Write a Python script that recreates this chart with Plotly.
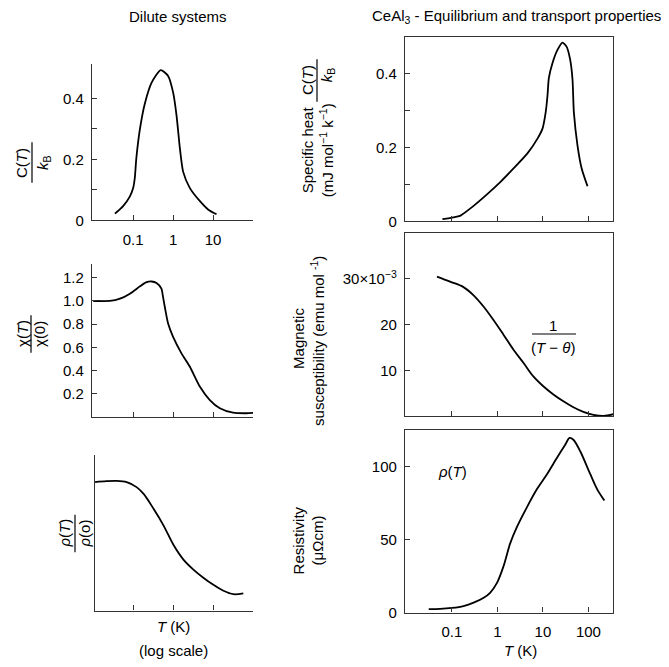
import plotly.graph_objects as go

OFF = 8  # default page body margin
W, H = 669 - OFF, 667 - OFF
FONT = "Liberation Sans, Arial, Helvetica, sans-serif"
FS = 15

# ---------------- data ----------------
# Dilute systems
dil_C_T = [0.035, 0.056, 0.083, 0.100, 0.110, 0.120, 0.148, 0.195, 0.29, 0.49, 0.75, 1.00, 1.22, 1.48, 1.78, 2.63, 4.7, 7.5, 12.2]
dil_C = [0.022, 0.047, 0.079, 0.106, 0.139, 0.203, 0.300, 0.382, 0.452, 0.493, 0.474, 0.420, 0.344, 0.236, 0.160, 0.106, 0.063, 0.036, 0.020]

dil_chi_T = [0.010, 0.026, 0.047, 0.083, 0.148, 0.21, 0.29, 0.385, 0.51, 0.56, 0.62, 0.75, 1.00, 1.62, 2.63, 4.7, 8.3, 14.8, 31.6, 68.4, 100.0]
dil_chi = [1.000, 1.000, 1.020, 1.063, 1.126, 1.160, 1.168, 1.155, 1.106, 1.035, 0.948, 0.805, 0.690, 0.548, 0.433, 0.260, 0.146, 0.075, 0.037, 0.032, 0.035]

dil_rho_T = [0.011, 0.021, 0.038, 0.068, 0.120, 0.178, 0.316, 0.56, 1.00, 1.78, 3.16, 5.6, 10.0, 17.8, 31.6, 56.0]
dil_rho = [0.823, 0.829, 0.831, 0.823, 0.791, 0.749, 0.654, 0.548, 0.422, 0.327, 0.263, 0.211, 0.165, 0.127, 0.105, 0.110]

# CeAl3
ce_C_T = [0.062, 0.108, 0.151, 0.30, 0.59, 1.17, 2.29, 4.57, 7.6, 9.8, 11.5, 12.6, 13.5, 16.2, 20.9, 26.9, 33.1, 39.8, 44.7, 47.9, 57.5, 70.8, 95.5]
ce_C = [0.006, 0.011, 0.015, 0.042, 0.073, 0.107, 0.144, 0.184, 0.224, 0.251, 0.295, 0.340, 0.388, 0.428, 0.464, 0.484, 0.473, 0.437, 0.384, 0.295, 0.206, 0.144, 0.095]

ce_chi_T = [0.047, 0.091, 0.180, 0.30, 0.50, 0.82, 1.36, 2.26, 3.76, 6.24, 10.2, 17.0, 28.2, 46.8, 77.6, 129.0, 214.0, 355.0]
ce_chi = [0.0305, 0.0294, 0.0282, 0.0264, 0.0239, 0.0210, 0.0178, 0.0145, 0.0116, 0.0086, 0.0065, 0.0047, 0.0032, 0.0019, 0.0009, 0.00025, 0.0000, 0.0004]

ce_rho_T = [0.031, 0.055, 0.100, 0.180, 0.30, 0.50, 0.69, 0.98, 1.36, 1.91, 2.69, 4.47, 7.4, 12.3, 20.4, 30.9, 38.5, 46.8, 66.1, 110.0, 155.0, 224.0]
ce_rho = [2.3, 2.5, 3.2, 4.5, 6.8, 10.2, 13.6, 20.4, 31.7, 47.5, 58.8, 72.4, 84.8, 95.0, 106.3, 115.3, 119.9, 118.7, 110.8, 95.0, 84.8, 76.9]

dil_xticks = [0.1, 1, 10]
dil_xlabels = ["0.1", "1", "10"]
ce_xticks = [0.1, 1, 10, 100]
ce_xlabels = ["0.1", "1", "10", "100"]

# ---------------- helpers ----------------
def px_x(p):
    return (p - OFF) / W

def px_y(p):
    return 1 - (p - OFF) / H

fig = go.Figure()

def add(x, y, n, smoothing=0.6):
    s = "" if n == 1 else str(n)
    fig.add_trace(go.Scatter(x=x, y=y, mode="lines",
                             line=dict(color="black", width=1.8, shape="spline", smoothing=smoothing),
                             xaxis="x" + s, yaxis="y" + s, showlegend=False, hoverinfo="skip"))

add(dil_C_T, dil_C, 1)
add(dil_chi_T, dil_chi, 2)
add(dil_rho_T, dil_rho, 3, 0.9)
add(ce_C_T, ce_C, 4)
add(ce_chi_T, ce_chi, 5, 1.0)
add(ce_rho_T, ce_rho, 6, 0.8)

AXC = "#333333"
tickfont = dict(family=FONT, size=FS, color="black")

def xax(dom, rng, anchor, mirror):
    return dict(type="log", domain=[px_x(dom[0]), px_x(dom[1])], range=rng, anchor=anchor,
                showline=True, linecolor=AXC, linewidth=1.3, mirror=mirror,
                ticks="inside", ticklen=5, tickcolor=AXC, tickwidth=1.2,
                showgrid=False, zeroline=False, tickfont=tickfont, ticklabelstandoff=5)

def yax(dom, rng, anchor, mirror):
    return dict(domain=[px_y(dom[1]), px_y(dom[0])], range=rng, anchor=anchor,
                showline=True, linecolor=AXC, linewidth=1.3, mirror=mirror,
                ticks="inside", ticklen=5, tickcolor=AXC, tickwidth=1.2,
                showgrid=False, zeroline=False, tickfont=tickfont, ticklabelstandoff=4)

layout = dict(width=W, height=H, margin=dict(l=0, r=0, t=0, b=0),
              paper_bgcolor="white", plot_bgcolor="white",
              font=dict(family=FONT, size=FS, color="black"), showlegend=False)

# left column
L1 = [92, 253]
L3 = [95, 253]
R = [405, 613]
layout["xaxis"] = xax(L1, [-2.03, 2.0], "y", False)
layout["xaxis"].update(tickvals=dil_xticks, ticktext=dil_xlabels)
layout["yaxis"] = yax([65, 223], [0, 0.512], "x", False)
layout["yaxis"].update(tickvals=[0, 0.1, 0.2, 0.3, 0.4], ticktext=["0", "", "0.2", "", "0.4"])

layout["xaxis2"] = xax(L1, [-2.03, 2.0], "y2", False)
layout["xaxis2"].update(tickvals=dil_xticks, showticklabels=False)
layout["yaxis2"] = yax([267, 422], [0, 1.32], "x2", False)
layout["yaxis2"].update(tickvals=[0.2, 0.4, 0.6, 0.8, 1.0, 1.2],
                        ticktext=["0.2", "0.4", "0.6", "0.8", "1.0", "1.2"])

layout["xaxis3"] = xax(L3, [-1.96, 1.99], "y3", False)
layout["xaxis3"].update(tickvals=dil_xticks, showticklabels=False)
layout["yaxis3"] = yax([460, 618], [0, 1.0], "x3", False)
layout["yaxis3"].update(tickvals=[], showticklabels=False)

# right column
layout["xaxis4"] = xax(R, [-2.03, 2.54], "y4", True)
layout["xaxis4"].update(tickvals=ce_xticks, showticklabels=False)
layout["yaxis4"] = yax([37, 224], [0, 0.5], "x4", True)
layout["yaxis4"].update(tickvals=[0, 0.1, 0.2, 0.3, 0.4], ticktext=["0", "", "0.2", "", "0.4"])

layout["xaxis5"] = xax(R, [-2.03, 2.54], "y5", True)
layout["xaxis5"].update(tickvals=ce_xticks, showticklabels=False)
layout["yaxis5"] = yax([236, 421], [0, 0.040], "x5", True)
layout["yaxis5"].update(tickvals=[0.01, 0.02, 0.03], ticktext=["10", "20", "30×10<sup>−3</sup>"])

layout["xaxis6"] = xax(R, [-2.03, 2.54], "y6", True)
layout["xaxis6"].update(tickvals=ce_xticks, ticktext=ce_xlabels)
layout["yaxis6"] = yax([435, 620], [0, 125.5], "x6", True)
layout["yaxis6"].update(tickvals=[0, 50, 100], ticktext=["0", "50", "100"])

fig.update_layout(**layout)

# ---------------- text ----------------
ann = []
shapes = []

def text(x, y, s, size=FS, angle=0):
    ann.append(dict(x=px_x(x), y=px_y(y), xref="paper", yref="paper", text=s, showarrow=False,
                    textangle=angle, xanchor="center", yanchor="middle",
                    font=dict(family=FONT, size=size, color="black")))

def vbar(x, y0, y1):
    shapes.append(dict(type="line", xref="paper", yref="paper", x0=px_x(x), x1=px_x(x),
                       y0=px_y(y0), y1=px_y(y1), line=dict(color="black", width=1.2)))

def hbar(y, x0, x1):
    shapes.append(dict(type="line", xref="paper", yref="paper", x0=px_x(x0), x1=px_x(x1),
                       y0=px_y(y), y1=px_y(y), line=dict(color="black", width=1.2)))

text(178, 17, "Dilute systems")
text(516, 17, "CeAl<sub>3</sub> - Equilibrium and transport properties")

# left y titles (rotated fractions)
text(21, 165, "C(<i>T</i>)", angle=-90)
vbar(32, 144, 185)
text(43, 165, "<i>k</i><sub>B</sub>", angle=-90)

text(23, 338, "χ(<i>T</i>)", angle=-90)
vbar(31, 319, 357)
text(40, 338, "χ(0)", angle=-90)

text(65, 540, "<i>ρ</i>(<i>T</i>)", angle=-90)
vbar(75, 521, 559)
text(85, 540, "<i>ρ</i>(o)", angle=-90)

text(173, 634, "<i>T</i> (K)")
text(173, 658, "(log scale)")

# right y titles
text(307, 152, "Specific heat", angle=-90)
text(307, 81, "C(<i>T</i>)", angle=-90)
vbar(317, 60, 103)
text(326, 152, "(mJ mol<sup>−1</sup> k<sup>−1</sup>)", angle=-90)
text(327, 76, "<i>k</i><sub>B</sub>", angle=-90)

text(299, 343, "Magnetic", angle=-90)
text(318, 345, "susceptibility (emu mol <sup>-1</sup>)", angle=-90)

text(298, 547, "Resistivity", angle=-90)
text(317, 547, "(μΩcm)", angle=-90)

text(520, 658, "<i>T</i> (K)")

# in-plot annotations
text(553, 329, "1")
hbar(338, 532, 576)
text(553, 352, "(<i>T</i> − <i>θ</i>)")
text(452, 477, "<i>ρ</i>(<i>T</i>)")

fig.update_layout(annotations=ann, shapes=shapes)
fig.write_html("out.html")
